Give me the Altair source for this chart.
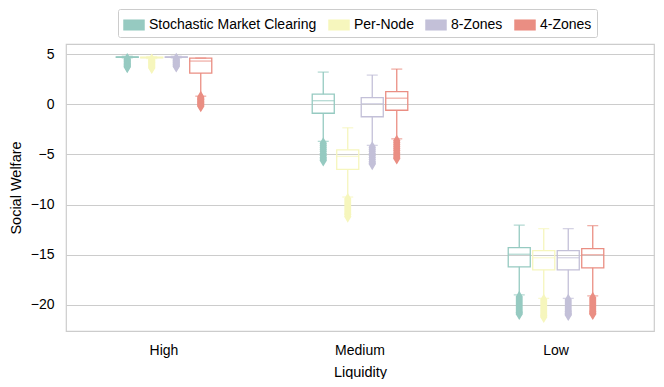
import altair as alt
import pandas as pd

liquidity = ["High", "Medium", "Low"]
series = ["Stochastic Market Clearing", "Per-Node", "8-Zones", "4-Zones"]
colors = ["#96cac1", "#f6f6bd", "#c3c0d8", "#ea8e83"]

# box statistics per liquidity level, in the order of `series`
whisker_low = {
    "High": [4.62, 4.55, 4.62, 0.8],
    "Medium": [-3.7, -9.25, -4.1, -3.45],
    "Low": [-19.0, -19.35, -19.35, -19.1],
}
q1 = {
    "High": [4.68, 4.62, 4.68, 3.1],
    "Medium": [-0.9, -6.5, -1.25, -0.6],
    "Low": [-16.2, -16.5, -16.5, -16.3],
}
median = {
    "High": [4.7, 4.65, 4.7, 4.3],
    "Medium": [0.35, -5.2, 0.05, 0.6],
    "Low": [-14.95, -15.3, -15.3, -15.0],
}
q3 = {
    "High": [4.72, 4.68, 4.72, 4.6],
    "Medium": [1.0, -4.55, 0.65, 1.25],
    "Low": [-14.3, -14.6, -14.6, -14.4],
}
whisker_high = {
    "High": [4.78, 4.75, 4.78, 4.6],
    "Medium": [3.2, -2.35, 2.9, 3.5],
    "Low": [-12.05, -12.4, -12.4, -12.1],
}

# outliers
out_high_smc = [4.5, 4.42, 4.33, 4.25, 4.14, 4.05, 3.96, 3.87, 3.78, 3.7]
out_high_pn = [4.45, 4.36, 4.28, 4.19, 4.1, 4.0, 3.9, 3.8, 3.7, 3.62]
out_high_8z = [4.52, 4.44, 4.35, 4.27, 4.18, 4.1, 4.0, 3.92, 3.84, 3.76]
out_high_4z = [0.72, 0.6, 0.5, 0.41, 0.3, 0.2, 0.1, 0.0, -0.1, -0.2]
out_med_smc = [-3.9, -4.1, -4.3, -4.5, -4.7, -4.9, -5.1, -5.3, -5.45, -5.6]
out_med_pn = [-9.45, -9.65, -9.85, -10.05, -10.25, -10.45, -10.65, -10.85, -11.0, -11.2]
out_med_8z = [-4.3, -4.5, -4.7, -4.9, -5.1, -5.3, -5.5, -5.7, -5.85, -5.97]
out_med_4z = [-3.65, -3.85, -4.05, -4.25, -4.45, -4.65, -4.85, -5.05, -5.25, -5.4]
out_low_smc = [-19.2, -19.4, -19.6, -19.8, -20.0, -20.2, -20.4, -20.6, -20.75, -20.9]
out_low_pn = [-19.5, -19.7, -19.9, -20.1, -20.3, -20.5, -20.7, -20.9, -21.05, -21.2]
out_low_8z = [-19.5, -19.7, -19.9, -20.1, -20.3, -20.5, -20.65, -20.8, -20.9, -21.0]
out_low_4z = [-19.3, -19.5, -19.7, -19.9, -20.1, -20.3, -20.5, -20.65, -20.8, -20.9]

outliers = {
    ("High", series[0]): out_high_smc, ("High", series[1]): out_high_pn,
    ("High", series[2]): out_high_8z, ("High", series[3]): out_high_4z,
    ("Medium", series[0]): out_med_smc, ("Medium", series[1]): out_med_pn,
    ("Medium", series[2]): out_med_8z, ("Medium", series[3]): out_med_4z,
    ("Low", series[0]): out_low_smc, ("Low", series[1]): out_low_pn,
    ("Low", series[2]): out_low_8z, ("Low", series[3]): out_low_4z,
}

stats_rows = []
for liq in liquidity:
    for i, s in enumerate(series):
        stats_rows.append({
            "Liquidity": liq, "series": s,
            "wlo": whisker_low[liq][i], "q1": q1[liq][i], "med": median[liq][i],
            "q3": q3[liq][i], "whi": whisker_high[liq][i],
        })
stats = pd.DataFrame(stats_rows)

out_rows = []
for (liq, s), vals in outliers.items():
    for v in vals:
        out_rows.append({"Liquidity": liq, "series": s, "value": v})
outdf = pd.DataFrame(out_rows)

FONT = "Liberation Sans"
lw = 1.3

x_enc = alt.X("Liquidity:N", sort=liquidity, title="Liquidity",
              scale=alt.Scale(paddingInner=0.5, paddingOuter=0.25),
              axis=alt.Axis(labelAngle=0, labelFontSize=14, labelFont=FONT, labelColor="black",
                            titleFontSize=14.5, titleFont=FONT, titleFontWeight="normal",
                            titleColor="black", titlePadding=8, labelPadding=12,
                            tickSize=0, domain=False, grid=False))
xoff = alt.XOffset("series:N", sort=series,
                   scale=alt.Scale(paddingInner=0.1, paddingOuter=0.05))
yscale = alt.Scale(domain=[-22.6, 6.0], nice=False, zero=False)
cscale = alt.Scale(domain=series, range=colors)
col = alt.Color("series:N", scale=cscale, sort=series)

base = alt.Chart(stats).encode(x=x_enc, xOffset=xoff)

whisk_lo = base.mark_rule(strokeWidth=lw).encode(
    y=alt.Y("wlo:Q", scale=yscale, title="Social Welfare",
            axis=alt.Axis(values=[-20, -15, -10, -5, 0, 5], labelFontSize=14, labelFont=FONT,
                          labelColor="black", titleFontSize=14.5, titleFont=FONT,
                          titleFontWeight="normal", titleColor="black", titlePadding=7,
                          labelPadding=12, tickSize=0, domain=False, grid=True,
                          gridColor="#cccccc", gridWidth=1.2)),
    y2="q1:Q",
    color=col,
)
whisk_hi = base.mark_rule(strokeWidth=lw).encode(
    y=alt.Y("q3:Q", scale=yscale), y2="whi:Q", color=col)
box = base.mark_bar(filled=False, strokeWidth=lw).encode(
    y=alt.Y("q1:Q", scale=yscale), y2="q3:Q", color=col)
med = base.mark_tick(size=22, thickness=lw).encode(
    y=alt.Y("med:Q", scale=yscale), color=col)
cap_lo = base.mark_tick(size=11, thickness=lw).encode(
    y=alt.Y("wlo:Q", scale=yscale), color=col)
cap_hi = base.mark_tick(size=11, thickness=lw).encode(
    y=alt.Y("whi:Q", scale=yscale), color=col)

pts = alt.Chart(outdf).mark_point(
    filled=True, shape="M0,-1L0.6,0L0,1L-0.6,0Z", size=150, opacity=1, strokeWidth=0
).encode(
    x=x_enc, xOffset=xoff,
    y=alt.Y("value:Q", scale=yscale),
    color=alt.Color("series:N", scale=cscale, sort=series, title=None,
                    legend=alt.Legend(orient="none", legendX=52, legendY=-35, direction="horizontal",
                                      columns=4, columnPadding=10, labelOffset=4,
                                      symbolType="M-1,-0.5H1V0.5H-1Z", symbolSize=441,
                                      symbolStrokeColor="#777777", symbolStrokeWidth=0.5,
                                      symbolOpacity=1,
                                      labelFont=FONT, labelFontSize=14, labelColor="black",
                                      padding=5, strokeColor="#cccccc", fillColor="white",
                                      cornerRadius=2, labelLimit=400)),
)

chart = alt.layer(whisk_lo, whisk_hi, box, med, cap_lo, cap_hi, pts).properties(
    width=588, height=287,
    autosize=alt.AutoSizeParams(type="none"),
    padding={"left": 58, "top": 36, "right": 2, "bottom": 48},
).configure_view(stroke="#cccccc", strokeWidth=1.2)

chart.save("out.html", embed_options={"renderer": "svg", "actions": False})
